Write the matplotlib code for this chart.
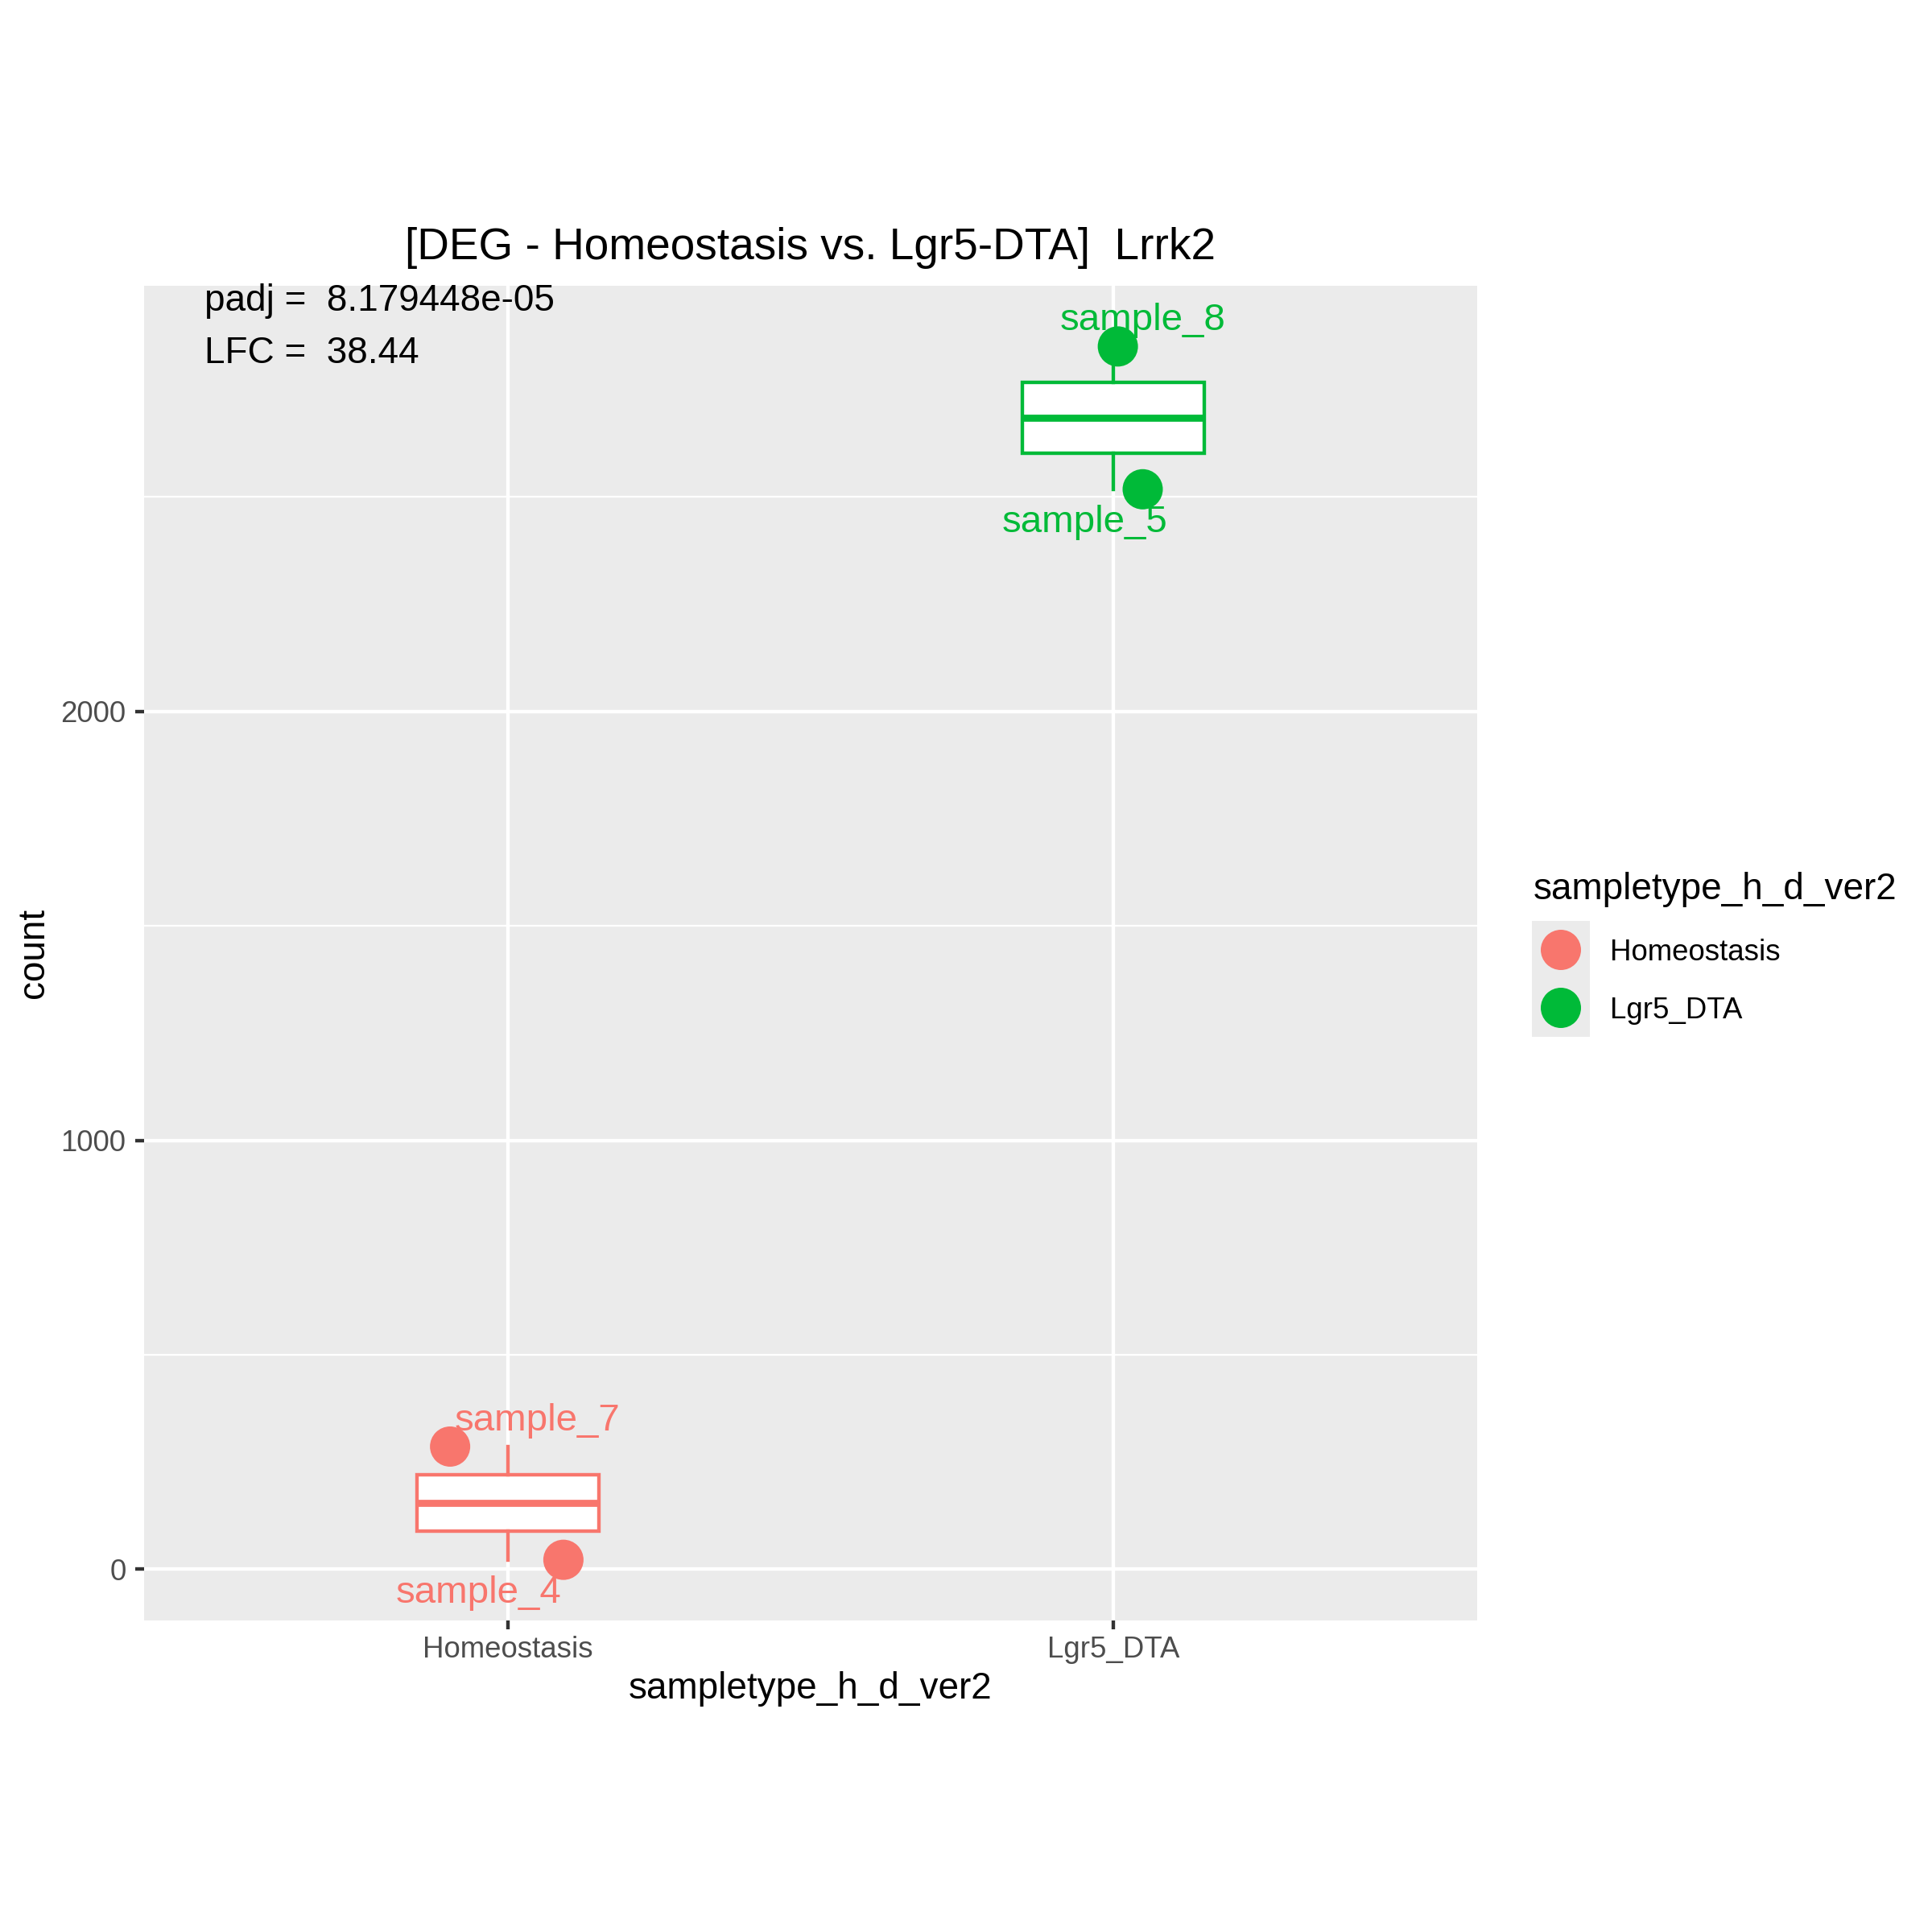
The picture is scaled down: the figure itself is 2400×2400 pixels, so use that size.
import matplotlib
matplotlib.use('Agg')
import matplotlib.pyplot as plt
import numpy as np

plt.rcParams['font.family'] = ['Liberation Sans', 'DejaVu Sans']

# ---------------- data ----------------
groups = ['Homeostasis', 'Lgr5_DTA']
group_colors = ['#F8766D', '#00BA38']
sample_names = ['sample_4', 'sample_7', 'sample_5', 'sample_8']
sample_group = [0, 0, 1, 1]
sample_count = [22, 286, 2518, 2851]
jitter = [0.092, -0.095, 0.048, 0.007]
label_offsets = [(-25.4, -12.7), (25.9, 4.8), (-17.3, -12.7), (7.4, 4.8)]  # points
y_major = [0, 1000, 2000]
y_minor = [500, 1500, 2500]
title = '[DEG - Homeostasis vs. Lgr5-DTA]  Lrrk2'
padj_text = 'padj =  8.179448e-05'
lfc_text = 'LFC =  38.44'
x_title = 'sampletype_h_d_ver2'
y_title = 'count'
legend_title = 'sampletype_h_d_ver2'

# ---------------- figure ----------------
W = H = 2400
fig = plt.figure(figsize=(8, 8), dpi=300)
L, R, T, B = 179, 1835, 355, 2013
ax = fig.add_axes([L / W, 1 - B / H, (R - L) / W, (B - T) / H])
ax.set_facecolor('#EBEBEB')
for s in ax.spines.values():
    s.set_visible(False)

positions = np.arange(1, len(groups) + 1)
counts = np.array(sample_count, dtype=float)
ymin, ymax = counts.min(), counts.max()
pad = 0.05 * (ymax - ymin)
ax.set_ylim(ymin - pad, ymax + pad)
ax.set_xlim(0.4, len(groups) + 0.6)

# grid
for v in y_minor:
    ax.axhline(v, color='white', lw=0.55, zorder=0.5)
for v in y_major:
    ax.axhline(v, color='white', lw=1.05, zorder=0.6)
for p in positions:
    ax.axvline(p, color='white', lw=1.05, zorder=0.6)

# boxplots
for gi, g in enumerate(groups):
    vals = [c for c, sg in zip(sample_count, sample_group) if sg == gi]
    col = group_colors[gi]
    ax.boxplot([vals], positions=[positions[gi]], widths=0.3, whis=(0, 100),
               patch_artist=True, showcaps=False, showfliers=False,
               boxprops=dict(facecolor='white', edgecolor=col, linewidth=1.05),
               whiskerprops=dict(color=col, linewidth=1.05),
               medianprops=dict(color=col, linewidth=2.1),
               zorder=2, manage_ticks=False)

# points and labels
for name, gi, c, j, off in zip(sample_names, sample_group, sample_count, jitter, label_offsets):
    x = positions[gi] + j
    ax.scatter([x], [c], s=144, color=group_colors[gi], edgecolors='none', zorder=3)
    ax.annotate(name, (x, c), xytext=off, textcoords='offset points',
                ha='center', va='baseline', fontsize=11.4, color=group_colors[gi], zorder=4)

# annotation text
ax.text(0.5, 2935, padj_text, ha='left', va='baseline', fontsize=11, color='black', zorder=4)
ax.text(0.5, 2813, lfc_text, ha='left', va='baseline', fontsize=11, color='black', zorder=4)

# ticks
ax.set_xticks(positions)
ax.set_xticklabels(groups)
ax.set_yticks(y_major)
ax.set_yticklabels([str(v) for v in y_major])
ax.tick_params(axis='both', length=2.75, width=1.05, color='#333333',
               labelsize=8.8, labelcolor='#4D4D4D')
ax.tick_params(axis='x', pad=1.8)
ax.tick_params(axis='y', pad=2.6)

# titles
ax.text(0.5, (B - 322) / (B - T), title, transform=ax.transAxes,
        ha='center', va='baseline', fontsize=13.2, color='black')
fig.text((L + R) / 2 / W, 1 - 2110 / H, x_title, ha='center', va='baseline',
         fontsize=11, color='black')
fig.text(41.5 / W, 1 - ((T + B) / 2) / H, y_title, rotation=90, ha='center',
         va='center', fontsize=11, color='black')

# legend
fig.text(1905 / W, 1 - 1117 / H, legend_title, ha='left', va='baseline', fontsize=11)
lax = fig.add_axes([1903 / W, 1 - 1288 / H, 72 / W, 144 / H])
lax.set_facecolor('#EBEBEB')
for s in lax.spines.values():
    s.set_visible(False)
lax.set_xticks([])
lax.set_yticks([])
lax.set_xlim(0, 1)
lax.set_ylim(0, len(groups))
key_baselines = [1193, 1265]
for gi, g in enumerate(groups):
    lax.scatter([0.5], [len(groups) - gi - 0.5], s=144, color=group_colors[gi],
                edgecolors='none', clip_on=False)
    fig.text(2000 / W, 1 - key_baselines[gi] / H, g, ha='left', va='baseline', fontsize=8.8)

fig.savefig('out.png', dpi=300)
